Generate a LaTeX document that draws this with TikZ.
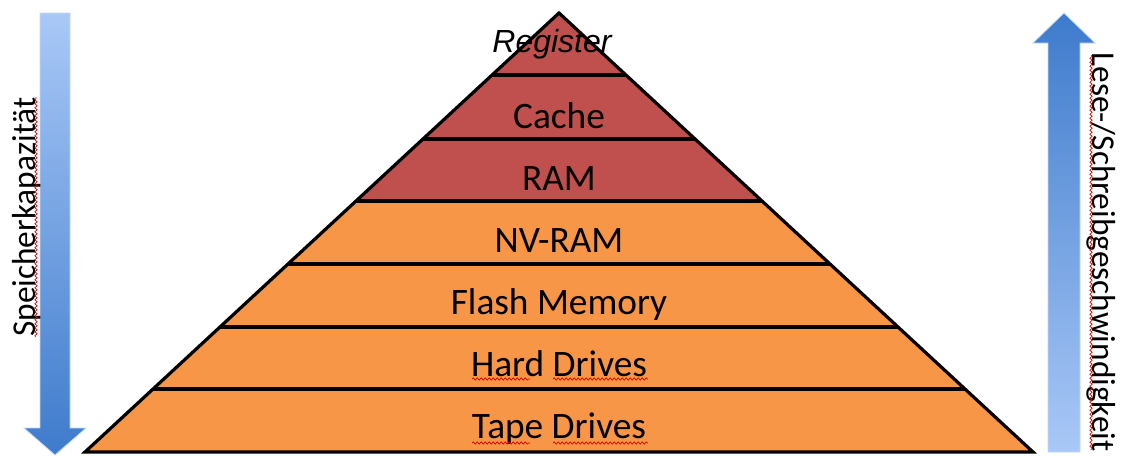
\documentclass[tikz,border=0pt]{standalone}
\usepackage{fontspec}
\setmainfont{Carlito}
\newfontfamily\regfont{Liberation Sans}
\usetikzlibrary{calc,decorations.pathmorphing}
\definecolor{topred}{HTML}{C0504D}
\definecolor{lowor}{HTML}{F79646}
\definecolor{bluelight}{HTML}{A9C8F7}
\definecolor{bluedark}{HTML}{3E7BCC}
\tikzset{
  band/.style={line width=2.4pt, black},
  lbl/.style={anchor=base, font=\fontsize{28}{30}\selectfont, inner sep=0pt},
  sidelbl/.style={anchor=base, font=\fontsize{25}{27}\selectfont, inner sep=0pt},
  squig/.style={red!85!black, line width=0.5pt, decorate,
    decoration={snake, amplitude=0.9pt, segment length=3pt}},
}
\begin{document}
\begin{tikzpicture}[x=0.75pt,y=-0.75pt]
\useasboundingbox (0,0) rectangle (1121,455);
\fill[white] (0,0) rectangle (1121,455);
% arrows
\shade[top color=bluelight, bottom color=bluedark, draw=bluelight!70!white, line width=0.6pt]
  (40,13) -- (70,13) -- (70,428) -- (86,428) -- (55,455) -- (24,428) -- (40,428) -- cycle;
\shade[top color=bluedark, bottom color=bluelight, draw=bluelight!70!white, line width=0.6pt]
  (1064,13) -- (1095,43) -- (1080,43) -- (1080,452) -- (1048,452) -- (1048,43) -- (1033,43) -- cycle;
% pyramid
\coordinate (A) at (559,13);
\coordinate (BL) at (85,452);
\coordinate (BR) at (1033,452);
\fill[topred] (A) -- (356,201) -- (762,201) -- cycle;
\fill[lowor] (356,201) -- (BL) -- (BR) -- (762,201) -- cycle;
\draw[band] (492,75) -- (626,75);
\draw[band] (423,139) -- (695,139);
\draw[band] (356,201) -- (762,201);
\draw[band] (288,264) -- (830,264);
\draw[band] (220,327) -- (898,327);
\draw[band] (153,389) -- (965,389);
\draw[band, line join=miter] (BL) -- (A) -- (BR) -- cycle;
% labels
\node[anchor=base, inner sep=0pt, font=\regfont\itshape\fontsize{24}{26}\selectfont] (reg) at (552,52) {Register};
\node[lbl] (cache) at (559,128) {Cache};
\node[lbl] (ram) at (559,190) {RAM};
\node[lbl] (nvram) at (559,252) {NV-RAM};
\node[lbl] (flash) at (559,314) {Flash Memory};
\node[lbl] (hdd) at (559,376) {Hard Drives};
\node[lbl] (tape) at (559,438) {Tape Drives};
\node[sidelbl, rotate=90] (cap) at (35,217) {Speicherkapazität};
\node[sidelbl, rotate=-90] (speed) at (1092,252) {Lese-/Schreibgeschwindigkeit};
% spell-check underlines
\draw[squig] (472,379) -- (530,379);
\draw[squig] (553,379) -- (648,379);
\draw[squig] (472,443) -- (530,443);
\draw[squig] (553,443) -- (648,443);
\draw[squig] (36,337) -- (36,97);
\draw[squig] (1091,55) -- (1091,450);
\end{tikzpicture}
\end{document}
